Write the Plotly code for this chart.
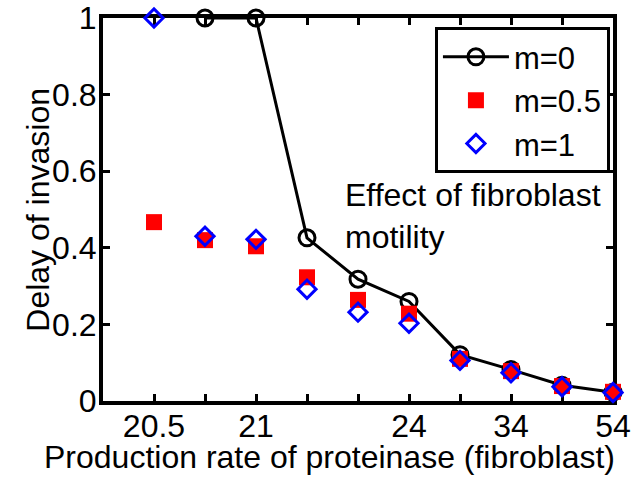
import plotly.graph_objects as go

# x positions (index) and tick labels
x_idx = [1, 2, 3, 4, 5, 6, 7, 8, 9, 10]
x_tick_vals = [1, 2, 3, 4, 5, 6, 7, 8, 9, 10]
x_tick_text = ["20.5", "", "21", "", "", "24", "", "34", "", "54"]
y_tick_vals = [0, 0.2, 0.4, 0.6, 0.8, 1.0]
y_tick_text = ["0", "0.2", "0.4", "0.6", "0.8", "1"]

# series values
m0 = [None, 1.0, 1.0, 0.426, 0.318, 0.26, 0.121, 0.082, 0.041, 0.023]
m05 = [0.467, 0.42, 0.404, 0.323, 0.264, 0.228, 0.11, 0.078, 0.039, 0.024]
m1 = [1.0, 0.43, 0.422, 0.292, 0.232, 0.203, 0.106, 0.074, 0.037, 0.022]

FONT = "Liberation Sans, Arial, sans-serif"
FS = 32

fig = go.Figure()
fig.add_trace(go.Scatter(
    x=x_idx, y=m0, name="m=0", mode="lines+markers",
    line=dict(color="black", width=3),
    marker=dict(symbol="circle-open", size=16, color="black", line=dict(width=3, color="black")),
    cliponaxis=False,
))
fig.add_trace(go.Scatter(
    x=x_idx, y=m05, name="m=0.5", mode="markers",
    marker=dict(symbol="square", size=16, color="red", line=dict(width=0)),
    cliponaxis=False,
))
fig.add_trace(go.Scatter(
    x=x_idx, y=m1, name="m=1", mode="markers",
    marker=dict(symbol="diamond-open", size=14, color="blue", line=dict(width=3, color="blue")),
    cliponaxis=False,
))

axis_common = dict(
    showline=True, linewidth=4, linecolor="black", mirror="allticks",
    ticks="inside", ticklen=7, tickwidth=3, tickcolor="black",
    showgrid=False, zeroline=False, layer="below traces", automargin=False,
    tickfont=dict(family=FONT, size=FS, color="black"),
)

fig.update_layout(
    width=640, height=478,
    margin=dict(l=103, r=27, t=18, b=77),
    paper_bgcolor="white", plot_bgcolor="white",
    font=dict(family=FONT, size=FS, color="black"),
    xaxis=dict(range=[0, 10], tickmode="array", tickvals=x_tick_vals, ticktext=x_tick_text,
               ticklabelstandoff=-6, **axis_common),
    yaxis=dict(range=[0, 1], tickmode="array", tickvals=y_tick_vals, ticktext=y_tick_text,
               ticklabelstandoff=-4, **axis_common),
    legend=dict(
        x=0.994, xanchor="right", y=0.976, yanchor="top",
        bgcolor="white", bordercolor="black", borderwidth=3,
        font=dict(family=FONT, size=31), itemwidth=66,
    ),
    showlegend=True,
    annotations=[
        dict(text="Effect of fibroblast<br>motility", xref="paper", yref="paper",
             x=0.47, y=0.483, xanchor="left", yanchor="middle", align="left",
             showarrow=False, font=dict(family=FONT, size=FS)),
        dict(text="Production rate of proteinase (fibroblast)", xref="paper", yref="paper",
             x=0.445, y=-0.146, xanchor="center", yanchor="middle",
             showarrow=False, font=dict(family=FONT, size=FS)),
        dict(text="Delay of invasion", xref="paper", yref="paper", textangle=-90,
             x=-0.129, y=0.5, xanchor="center", yanchor="middle",
             showarrow=False, font=dict(family=FONT, size=FS)),
    ],
)

fig.write_html("out.html")
